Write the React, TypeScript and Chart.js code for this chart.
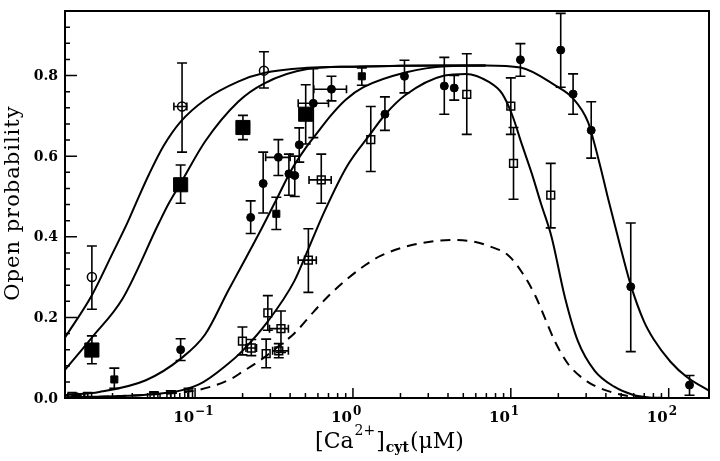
import React, { useEffect, useRef } from "react";
import { Chart, registerables } from "chart.js";

Chart.register(...registerables);

// ---------- axes ----------
const X_MIN = 0.015;
const X_MAX = 180;
const Y_MIN = 0;
const Y_MAX = 0.96;
const yTickValues = [0, 0.2, 0.4, 0.6, 0.8];
const yTickLabels = ["0.0", "0.2", "0.4", "0.6", "0.8"];
const yMinorStep = 0.04;
const xTickExponents = [-1, 0, 1, 2];
const xTickBase = "10";
const yTitle = "Open probability";

// ---------- fitted curves ----------
const curveAX = [0.015, 0.0222, 0.0301, 0.0373, 0.0422, 0.0511, 0.0631, 0.0808, 0.116, 0.1875, 0.273, 0.515, 1.0, 2.0, 3.88, 6.92];
const curveAY = [0.15, 0.255, 0.36, 0.435, 0.483, 0.555, 0.625, 0.685, 0.74, 0.785, 0.806, 0.819, 0.822, 0.824, 0.825, 0.825];

const curveBX = [0.015, 0.0222, 0.0348, 0.059, 0.0682, 0.0808, 0.116, 0.1875, 0.273, 0.515, 1.0, 2.0, 3.88, 6.92];
const curveBY = [0.07, 0.15, 0.247, 0.434, 0.483, 0.532, 0.637, 0.735, 0.78, 0.816, 0.822, 0.824, 0.825, 0.825];

const curveCX = [0.015, 0.0248, 0.0488, 0.0808, 0.116, 0.162, 0.1875, 0.262, 0.334, 0.405, 0.491, 0.6, 0.721, 0.9, 1.166, 2.18, 3.88, 6.92, 11.5, 19.0, 24.8, 30.8, 33.9, 38.2, 41.0, 49.8, 57.5, 69.7, 80.5, 102.6, 130.3, 180];
const curveCY = [0.007, 0.015, 0.044, 0.097, 0.158, 0.266, 0.312, 0.418, 0.499, 0.564, 0.615, 0.66, 0.7, 0.74, 0.771, 0.808, 0.823, 0.825, 0.82, 0.776, 0.743, 0.685, 0.63, 0.55, 0.5, 0.37, 0.28, 0.19, 0.145, 0.09, 0.052, 0.018];

const curveDX = [0.015, 0.0488, 0.105, 0.162, 0.1995, 0.289, 0.425, 0.522, 0.655, 0.917, 1.29, 1.59, 2.14, 3.8, 5.2, 7.26, 8.81, 10.2, 11.75, 13.6, 15.5, 18.1, 22.0, 26.6, 33.9, 45.2, 60.4, 80.5];
const curveDY = [0.002, 0.008, 0.033, 0.085, 0.117, 0.19, 0.29, 0.37, 0.46, 0.575, 0.655, 0.702, 0.751, 0.8, 0.804, 0.784, 0.755, 0.702, 0.629, 0.556, 0.483, 0.4, 0.25, 0.141, 0.068, 0.028, 0.007, 0.0];

const dashX = [0.015, 0.0248, 0.0488, 0.105, 0.17, 0.1995, 0.262, 0.35, 0.425, 0.567, 0.687, 0.917, 1.2, 1.483, 2.4, 4.27, 5.98, 7.26, 9.69, 11.75, 14.25, 16.45, 19.0, 23.0, 30.7, 43.1, 60.4, 100];
const dashY = [0.0, 0.003, 0.008, 0.02, 0.048, 0.065, 0.095, 0.133, 0.16, 0.215, 0.25, 0.295, 0.33, 0.352, 0.38, 0.392, 0.387, 0.377, 0.353, 0.312, 0.255, 0.198, 0.141, 0.085, 0.04, 0.015, 0.003, 0.0];

// ---------- data points ----------
// filled circles
const fcX = [0.0178, 0.081, 0.225, 0.27, 0.337, 0.393, 0.428, 0.457, 0.561, 0.731, 1.594, 2.12, 3.79, 4.38, 11.5, 20.7, 24.8, 32.3, 57.5, 135.5];
const fcY = [0.003, 0.12, 0.448, 0.532, 0.597, 0.556, 0.552, 0.628, 0.731, 0.766, 0.704, 0.798, 0.774, 0.769, 0.839, 0.863, 0.754, 0.664, 0.276, 0.032];
const fcLo = [0, 0.093, 0.408, 0.459, 0.552, 0.503, 0.5, 0.585, 0.646, 0.737, 0.664, 0.757, 0.704, 0.739, 0.798, 0.771, 0.704, 0.595, 0.115, 0.007];
const fcHi = [0.006, 0.147, 0.489, 0.61, 0.641, 0.605, 0.6, 0.67, 0.817, 0.798, 0.747, 0.838, 0.845, 0.8, 0.879, 0.954, 0.804, 0.735, 0.434, 0.056];
const fcXLo = [null, null, null, null, 0.28, null, null, null, 0.45, 0.565, null, null, null, null, null, null, null, null, null, null];
const fcXHi = [null, null, null, null, 0.4, null, null, null, 0.7, 0.91, null, null, null, null, null, null, null, null, null, null];

// small filled squares
const sfX = [0.0308, 0.327, 1.138];
const sfY = [0.046, 0.457, 0.798];
const sfLo = [0.024, 0.418, 0.776];
const sfHi = [0.074, 0.498, 0.819];

// open circles
const ocX = [0.0222, 0.0827, 0.273];
const ocY = [0.3, 0.723, 0.812];
const ocLo = [0.22, 0.61, 0.769];
const ocHi = [0.377, 0.831, 0.859];
const ocXLo = [null, 0.0734, null];
const ocXHi = [null, 0.0887, null];

// big filled squares
const bsX = [0.0222, 0.081, 0.201, 0.502];
const bsY = [0.119, 0.529, 0.671, 0.704];
const bsLo = [0.085, 0.483, 0.641, 0.63];
const bsHi = [0.154, 0.578, 0.701, 0.777];

// open squares
const osX = [0.63, 1.297, 5.26, 10.0, 10.4, 17.9, 0.522, 0.289, 0.35, 0.1995, 0.227, 0.282, 0.339, 0.0166, 0.0209, 0.0549, 0.0702, 0.091];
const osY = [0.541, 0.641, 0.753, 0.724, 0.582, 0.503, 0.342, 0.211, 0.172, 0.141, 0.124, 0.11, 0.117, 0.004, 0.004, 0.006, 0.008, 0.01];
const osLo = [0.483, 0.562, 0.654, 0.654, 0.493, 0.422, 0.262, 0.168, 0.113, 0.107, 0.105, 0.075, 0.1, 0, 0, 0, 0, 0];
const osHi = [0.605, 0.723, 0.854, 0.794, 0.671, 0.582, 0.42, 0.254, 0.216, 0.176, 0.145, 0.146, 0.135, 0.01, 0.012, 0.014, 0.018, 0.024];
const osXLo = [0.527, null, null, null, null, null, 0.45, null, 0.296, null, 0.21, null, 0.31, null, null, null, null, null];
const osXHi = [0.728, null, null, null, null, null, 0.586, null, 0.39, null, 0.245, null, 0.39, null, null, null, null, null];

const SERIF = '"DejaVu Serif", "Liberation Serif", serif';

function pts(xs: number[], ys: number[]) {
  return xs.map((x, i) => ({ x, y: ys[i] }));
}

const decor = {
  id: "decor",
  beforeDatasetsDraw(chart: any) {
    const ctx = chart.ctx;
    const xs = chart.scales.x;
    const ys = chart.scales.y;
    ctx.save();
    ctx.strokeStyle = "#000";
    ctx.lineWidth = 1.6;
    chart.data.datasets.forEach((ds: any) => {
      if (!ds.yLo) return;
      ds.data.forEach((p: any, i: number) => {
        const px = xs.getPixelForValue(p.x);
        const py = ys.getPixelForValue(p.y);
        const lo = ys.getPixelForValue(ds.yLo[i]);
        const hi = ys.getPixelForValue(ds.yHi[i]);
        ctx.beginPath();
        ctx.moveTo(px, hi);
        ctx.lineTo(px, lo);
        ctx.moveTo(px - 5, hi);
        ctx.lineTo(px + 5, hi);
        ctx.moveTo(px - 5, lo);
        ctx.lineTo(px + 5, lo);
        if (ds.xLo && ds.xLo[i] != null) {
          const l = xs.getPixelForValue(ds.xLo[i]);
          const r = xs.getPixelForValue(ds.xHi[i]);
          ctx.moveTo(l, py);
          ctx.lineTo(r, py);
          ctx.moveTo(l, py - 4);
          ctx.lineTo(l, py + 4);
          ctx.moveTo(r, py - 4);
          ctx.lineTo(r, py + 4);
        }
        ctx.stroke();
      });
    });
    ctx.restore();
  },
  afterDraw(chart: any) {
    const ctx = chart.ctx;
    const xs = chart.scales.x;
    const ys = chart.scales.y;
    const { left, right, top, bottom } = chart.chartArea;
    ctx.save();
    ctx.strokeStyle = "#000";
    ctx.fillStyle = "#000";
    // frame
    ctx.lineWidth = 2;
    ctx.strokeRect(left, top, right - left, bottom - top);
    // y ticks
    ctx.lineWidth = 1.5;
    ctx.beginPath();
    const nY = Math.round((Y_MAX - Y_MIN) / yMinorStep);
    for (let i = 0; i <= nY; i++) {
      const v = Y_MIN + i * yMinorStep;
      const py = ys.getPixelForValue(v);
      const len = i % 5 === 0 ? 12 : 5;
      ctx.moveTo(left, py);
      ctx.lineTo(left + len, py);
    }
    // x ticks
    for (let e = -2; e <= 2; e++) {
      for (let m = 1; m <= 9; m++) {
        const v = m * Math.pow(10, e);
        if (v < X_MIN || v > X_MAX) continue;
        const px = xs.getPixelForValue(v);
        const len = m === 1 ? 10 : 5;
        ctx.moveTo(px, bottom);
        ctx.lineTo(px, bottom - len);
      }
    }
    ctx.stroke();
    // y tick labels
    ctx.font = `bold 14px ${SERIF}`;
    ctx.textAlign = "right";
    ctx.textBaseline = "middle";
    yTickValues.forEach((v, i) => {
      ctx.fillText(yTickLabels[i], 58, ys.getPixelForValue(v) + 1);
    });
    // x tick labels with exponents
    ctx.textBaseline = "alphabetic";
    xTickExponents.forEach((e) => {
      const px = xs.getPixelForValue(Math.pow(10, e));
      const exp = e < 0 ? "\u2212" + Math.abs(e) : String(e);
      ctx.font = `bold 15px ${SERIF}`;
      ctx.textAlign = "right";
      ctx.fillText(xTickBase, px - 1, 422);
      ctx.font = `bold 12px ${SERIF}`;
      ctx.textAlign = "left";
      ctx.fillText(exp, px, 415);
    });
    // y title
    ctx.save();
    ctx.translate(14, 203);
    ctx.rotate(-Math.PI / 2);
    ctx.font = `21px ${SERIF}`;
    try { (ctx as any).letterSpacing = "1px"; } catch (err) {}
    ctx.textAlign = "center";
    ctx.textBaseline = "middle";
    ctx.fillText(yTitle, 0, 0);
    ctx.restore();
    // x title: [Ca2+]cyt(μM)
    const parts = [
      { t: "[Ca", f: `22px ${SERIF}`, dy: 0 },
      { t: "2+", f: `14px ${SERIF}`, dy: -13 },
      { t: "]", f: `22px ${SERIF}`, dy: 0 },
      { t: "cyt", f: `bold 14px ${SERIF}`, dy: 4 },
      { t: "(\u03BCM)", f: `22px ${SERIF}`, dy: 0 },
    ];
    let total = 0;
    const widths = parts.map((p) => {
      ctx.font = p.f;
      const w = ctx.measureText(p.t).width + 1;
      total += w;
      return w;
    });
    let x0 = 390 - total / 2;
    ctx.textAlign = "left";
    ctx.textBaseline = "alphabetic";
    parts.forEach((p, i) => {
      ctx.font = p.f;
      ctx.fillText(p.t, x0, 448 + p.dy);
      x0 += widths[i];
    });
    ctx.restore();
  },
};

export default function App() {
  const ref = useRef<HTMLCanvasElement | null>(null);
  useEffect(() => {
    if (!ref.current) return;
    const lineDs = (xs: number[], ysv: number[], dash?: number[]) => ({
      type: "line" as const,
      data: pts(xs, ysv),
      borderColor: "#000",
      borderWidth: 2,
      borderDash: dash || [],
      pointRadius: 0,
      fill: false,
      cubicInterpolationMode: "monotone" as const,
    });
    const markDs = (xs: number[], ysv: number[], lo: number[], hi: number[], style: any, xlo?: any[], xhi?: any[]) => ({
      type: "scatter" as const,
      data: pts(xs, ysv),
      yLo: lo,
      yHi: hi,
      xLo: xlo,
      xHi: xhi,
      showLine: false,
      ...style,
    });
    const chart = new Chart(ref.current, {
      type: "scatter",
      data: {
        datasets: [
          lineDs(curveAX, curveAY),
          lineDs(curveBX, curveBY),
          lineDs(curveCX, curveCY),
          lineDs(curveDX, curveDY),
          lineDs(dashX, dashY, [10, 7]),
          markDs(fcX, fcY, fcLo, fcHi, { pointStyle: "circle", pointRadius: 4, backgroundColor: "#000", borderColor: "#000", borderWidth: 1 }, fcXLo, fcXHi),
          markDs(sfX, sfY, sfLo, sfHi, { pointStyle: "rect", pointRadius: 5, backgroundColor: "#000", borderColor: "#000", borderWidth: 1 }),
          markDs(ocX, ocY, ocLo, ocHi, { pointStyle: "circle", pointRadius: 4.5, backgroundColor: "rgba(0,0,0,0)", borderColor: "#000", borderWidth: 1.5 }, ocXLo, ocXHi),
          markDs(bsX, bsY, bsLo, bsHi, { pointStyle: "rect", pointRadius: 10, backgroundColor: "#000", borderColor: "#000", borderWidth: 1 }),
          markDs(osX, osY, osLo, osHi, { pointStyle: "rect", pointRadius: 5.5, backgroundColor: "rgba(0,0,0,0)", borderColor: "#000", borderWidth: 1.5 }, osXLo, osXHi),
        ] as any,
      },
      options: {
        responsive: false,
        animation: false,
        devicePixelRatio: 1,
        layout: { padding: { left: 65, right: 4, top: 3, bottom: 63 } },
        plugins: { legend: { display: false }, tooltip: { enabled: false } },
        scales: {
          x: { type: "logarithmic", min: X_MIN, max: X_MAX, display: false },
          y: { type: "linear", min: Y_MIN, max: Y_MAX, display: false },
        },
      },
      plugins: [decor],
    });
    return () => chart.destroy();
  }, []);
  return (
    <div style={{ position: "fixed", left: 0, top: 0, width: 720, height: 461, background: "#fff" }}>
      <canvas ref={ref} width={720} height={461} />
    </div>
  );
}
